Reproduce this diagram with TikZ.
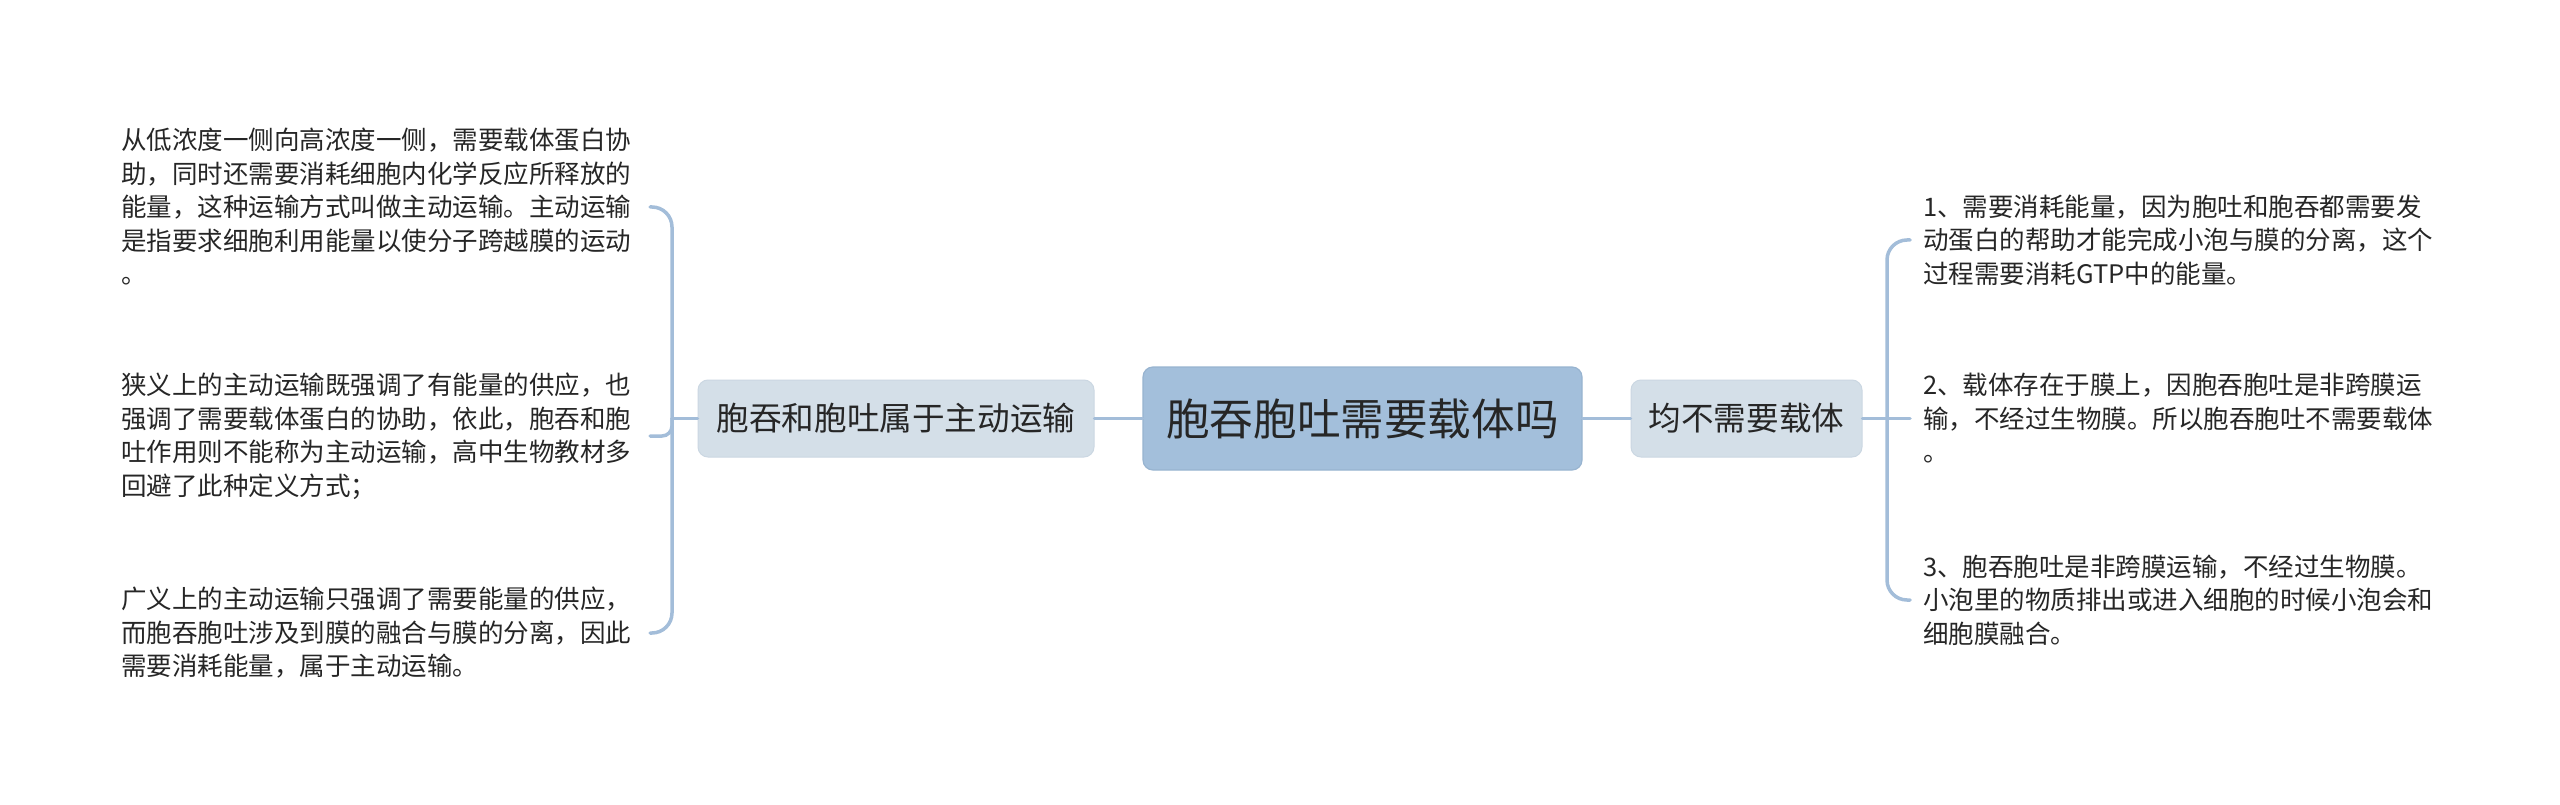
\documentclass[tikz,border=0pt]{standalone}
\usepackage{fontspec}
\setmainfont{Noto Sans CJK SC}
\usetikzlibrary{calc}
\definecolor{connc}{HTML}{A3BDD9}
\definecolor{rootfill}{HTML}{A3BFDB}
\definecolor{rootedge}{HTML}{98B4D0}
\definecolor{subfill}{HTML}{D4DFE8}
\definecolor{subedge}{HTML}{CBD7E2}
\definecolor{txt}{HTML}{262626}
\tikzset{
  conn/.style={draw=connc, line width=3.5pt, line cap=round},
  rootbox/.style={fill=rootfill, draw=rootedge, line width=1.2pt, rounded corners=10pt, text=txt, inner sep=0pt,
    font={\fontsize{43.6}{50}\selectfont}},
  subbox/.style={fill=subfill, draw=subedge, line width=1pt, rounded corners=10pt, text=txt, inner sep=0pt,
    font={\fontsize{32.6}{40}\selectfont}},
  leaf/.style={anchor=west, align=left, inner sep=0pt, text=txt,
    font={\fontsize{25.5}{33.5}\selectfont}}
}
\begin{document}
\begin{tikzpicture}[x=1pt,y=-1pt]
\useasboundingbox[fill=white] (0,0) rectangle (2560,805);

% central and branch nodes
\node[rootbox, minimum width=439pt, minimum height=103pt] (root) at (1362.5,418.5) {胞吞胞吐需要载体吗};
\node[subbox, minimum width=396pt, minimum height=77pt] (L) at (896,418.5) {胞吞和胞吐属于主动运输};
\node[subbox, minimum width=231pt, minimum height=77pt] (R) at (1746.5,418.5) {均不需要载体};

% left leaves
\node[leaf] (b1) at (121,207) {从低浓度一侧向高浓度一侧，需要载体蛋白协\\助，同时还需要消耗细胞内化学反应所释放的\\能量，这种运输方式叫做主动运输。主动运输\\是指要求细胞利用能量以使分子跨越膜的运动\\。};
\node[leaf] (b2) at (121,436) {狭义上的主动运输既强调了有能量的供应，也\\强调了需要载体蛋白的协助，依此，胞吞和胞\\吐作用则不能称为主动运输，高中生物教材多\\回避了此种定义方式；};
\node[leaf] (b3) at (121,633) {广义上的主动运输只强调了需要能量的供应，\\而胞吞胞吐涉及到膜的融合与膜的分离，因此\\需要消耗能量，属于主动运输。};

% right leaves
\node[leaf] (r1) at (1923,240) {1、需要消耗能量，因为胞吐和胞吞都需要发\\动蛋白的帮助才能完成小泡与膜的分离，这个\\过程需要消耗GTP中的能量。};
\node[leaf] (r2) at (1923,418.5) {2、载体存在于膜上，因胞吞胞吐是非跨膜运\\输，不经过生物膜。所以胞吞胞吐不需要载体\\。};
\node[leaf] (r3) at (1923,600) {3、胞吞胞吐是非跨膜运输，不经过生物膜。\\小泡里的物质排出或进入细胞的时候小泡会和\\细胞膜融合。};

% coordinates for brackets
\coordinate (Ls) at (672,418.5);
\coordinate (hl) at (650,0);
\coordinate (Rs) at (1887,418.5);
\coordinate (hr) at (1910,0);

% connectors
\draw[conn] (root.west) -- (L.east);
\draw[conn] (root.east) -- (R.west);

\draw[conn] (L.west) -- (Ls);
\draw[conn, rounded corners=20pt] (Ls) |- (b1.east -| hl);
\draw[conn, rounded corners=20pt] (Ls) |- (b3.east -| hl);
\draw[conn, rounded corners=10pt] (Ls) |- (b2.east -| hl);

\draw[conn] (R.east) -- (r2.west -| hr);
\draw[conn, rounded corners=20pt] (Rs) |- (r1.west -| hr);
\draw[conn, rounded corners=20pt] (Rs) |- (r3.west -| hr);
\end{tikzpicture}
\end{document}
